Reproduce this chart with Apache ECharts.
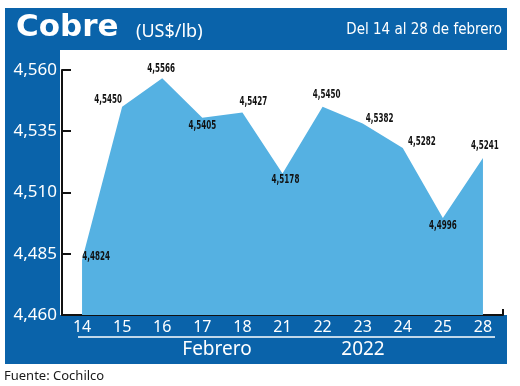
<!DOCTYPE html>
<html><head><meta charset="utf-8">
<script src="https://cdn.jsdelivr.net/npm/echarts@6/dist/echarts.min.js"></script>
<style>html,body{margin:0;padding:0;background:#fff}#c{width:520px;height:386px}</style>
</head><body><div id="c"></div>
<script>
// ---- data ----
const categories = ['14','15','16','17','18','21','22','23','24','25','28'];
const values = [4.4824, 4.5450, 4.5566, 4.5405, 4.5427, 4.5178, 4.5450, 4.5382, 4.5282, 4.4996, 4.5241];
const yMin = 4.460, yMax = 4.560, yStep = 0.025;
const titleText = 'Cobre';
const unitText = '(US$/lb)';
const periodText = 'Del 14 al 28 de febrero';
const monthText = 'Febrero';
const yearText = '2022';
const sourceText = 'Fuente: Cochilco';

// ---- label placement relative to each point (style only) ----
const labelShift = [
  [14,-3], [-14,-7], [-1,-10], [0,8], [11,-11], [3,6],
  [4,-12], [17,-5], [19,-6], [0,8], [2,-12]
];

const BLUE = '#0a63aa';
const AREA = '#55b1e2';
const COND = '"DejaVu Sans Condensed", "Noto Sans", sans-serif';
const fmt = (v, d) => v.toFixed(d).replace('.', ',');

const staticGraphics = [
  {type:'rect', z:-10, shape:{x:5, y:8, width:502, height:356}, style:{fill:BLUE}},
  {type:'rect', z:-9, shape:{x:60, y:50, width:460, height:265}, style:{fill:'#ffffff'}},
  {type:'text', z:5, style:{x:16, y:28, text:titleText, fill:'#fff', font:'bold 31px "DejaVu Sans"', textVerticalAlign:'middle'}},
  {type:'text', z:5, style:{x:136, y:32, text:unitText, fill:'#fff', font:'18px "Noto Sans"', textVerticalAlign:'middle'}},
  {type:'text', z:5, style:{x:502, y:30, text:periodText, fill:'#fff', font:'15px ' + COND, textAlign:'right', textVerticalAlign:'middle'}},
  {type:'line', z:5, shape:{x1:78, y1:337, x2:495, y2:337}, style:{stroke:'#fff', lineWidth:1.5}},
  {type:'text', z:5, style:{x:217, y:350, text:monthText, fill:'#fff', font:'19px "Noto Sans"', textAlign:'center', textVerticalAlign:'middle'}},
  {type:'text', z:5, style:{x:363, y:350, text:yearText, fill:'#fff', font:'19px "Noto Sans"', textAlign:'center', textVerticalAlign:'middle'}},
  {type:'text', z:5, style:{x:4, y:376, text:sourceText, fill:'#1a1a1a', font:'13px "Noto Sans"', textVerticalAlign:'middle'}},
  {type:'line', z:5, shape:{x1:503, y1:309, x2:503, y2:315}, style:{stroke:'#111', lineWidth:2}}
];

const chart = echarts.init(document.getElementById('c'), null, {renderer:'canvas'});
chart.setOption({
  animation: false,
  backgroundColor: '#ffffff',
  graphic: staticGraphics,
  grid: {left:62, right:17, top:70, bottom:71, containLabel:false},
  xAxis: {
    type:'category', data:categories, boundaryGap:true,
    axisLine:{show:true, lineStyle:{color:'#111', width:2}},
    axisTick:{show:false},
    axisLabel:{color:'#fff', fontSize:16, fontFamily:'Noto Sans', margin:4},
    splitLine:{show:false}
  },
  yAxis: {
    type:'value', min:yMin, max:yMax, interval:yStep,
    axisLine:{show:true, lineStyle:{color:'#111', width:2}},
    axisTick:{show:true, inside:true, length:9, lineStyle:{color:'#111', width:2}},
    axisLabel:{color:'#fff', fontSize:17, fontFamily:'Noto Sans', margin:5, formatter:v => fmt(v,3)},
    splitLine:{show:false}
  },
  series: [{
    type:'line',
    data: values,
    symbol:'none',
    lineStyle:{width:0},
    areaStyle:{color:AREA, opacity:1, origin:'start'},
    z:2
  }]
});

// value labels, placed through the chart's own scales, drawn condensed
const labelGraphics = values.map((v, i) => {
  const p = chart.convertToPixel({gridIndex:0}, [i, v]);
  return {
    type:'text', z:10,
    x: p[0] + labelShift[i][0], y: p[1] + labelShift[i][1],
    scaleX: 0.64,
    style:{x:0, y:0, text:fmt(v,4), fill:'#111', font:'bold 12.5px ' + COND, textAlign:'center', textVerticalAlign:'middle'}
  };
});
chart.setOption({graphic: staticGraphics.concat(labelGraphics)});
</script>
</body></html>
